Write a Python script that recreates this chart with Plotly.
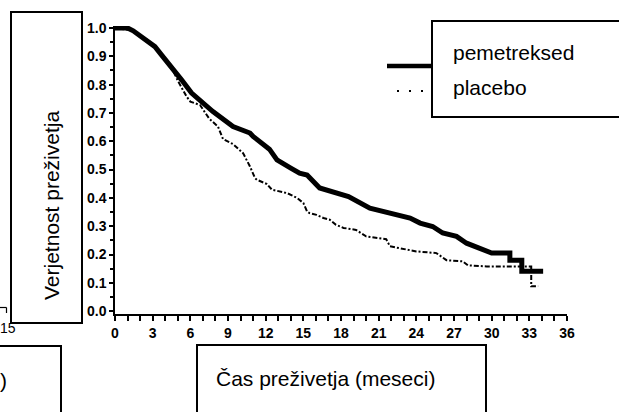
import plotly.graph_objects as go

# Kaplan-Meier survival estimates (months, survival probability)
pem_months = [0, 1.0, 1.45, 2.25, 3.18, 3.7, 4.5, 5.3, 6.1, 6.77, 7.8, 9.4, 10.75, 11.0,
              12.3, 12.9, 13.1, 14.0, 14.7, 15.3, 16.3, 17.4, 18.6, 20.3, 21.9, 23.5,
              24.3, 25.3, 26.1, 27.2, 28.0, 29.1, 30.0, 31.45, 31.45, 32.4, 32.4, 34.1]
pem_surv = [1.0, 1.0, 0.99, 0.963, 0.934, 0.905, 0.863, 0.817, 0.77, 0.743, 0.705, 0.652,
            0.629, 0.617, 0.572, 0.534, 0.528, 0.505, 0.487, 0.481, 0.435, 0.42, 0.405,
            0.364, 0.346, 0.329, 0.311, 0.299, 0.276, 0.264, 0.24, 0.223, 0.205, 0.205,
            0.18, 0.18, 0.141, 0.141]

pla_months = [0, 1.5, 2.5, 3.5, 4.5, 5.04, 5.7, 6.0, 6.77, 7.5, 8.2, 8.6, 9.4, 9.95, 10.2,
              10.75, 11.15, 11.3, 12.1, 12.5, 13.7, 14.5, 15.0, 15.3, 15.5, 16.05, 16.6,
              17.1, 17.6, 18.2, 19.2, 20.0, 21.6, 21.9, 24.0, 25.6, 26.4, 27.7, 28.1,
              29.6, 33.15, 33.15, 33.7]
pla_surv = [1.0, 0.99, 0.96, 0.92, 0.86, 0.811, 0.758, 0.74, 0.728, 0.68, 0.652, 0.608,
            0.59, 0.57, 0.558, 0.511, 0.47, 0.464, 0.449, 0.429, 0.417, 0.40, 0.382, 0.352,
            0.346, 0.34, 0.329, 0.323, 0.305, 0.294, 0.287, 0.264, 0.254, 0.229, 0.211,
            0.205, 0.18, 0.176, 0.162, 0.158, 0.158, 0.088, 0.088]

series_names = ["pemetreksed", "placebo"]
y_title = "Verjetnost preživetja"
x_title = "Čas preživetja (meseci)"

W, H = 619, 412
L, R, T, B = 115, 52, 26, 98
PW, PH = W - L - R, H - T - B


def px(x):
    """pixel x -> paper x"""
    return (x - L) / PW


def py(y):
    """pixel y (from top) -> paper y"""
    return (H - B - y) / PH


fig = go.Figure()
fig.add_trace(go.Scatter(x=pem_months, y=pem_surv, mode="lines", name=series_names[0],
                         line=dict(color="black", width=5), showlegend=False))
fig.add_trace(go.Scatter(x=pla_months, y=pla_surv, mode="lines", name=series_names[1],
                         line=dict(color="black", width=2, dash="5px,2px,2px,2px"),
                         showlegend=False))

tick_font = dict(family="Liberation Sans, Arial, sans-serif", size=14, color="black",
                 weight="bold")

fig.update_xaxes(range=[0, 36], tickvals=list(range(0, 37, 3)),
                 ticks="outside", ticklen=5, tickwidth=1.5, tickcolor="black",
                 minor=dict(dtick=1, tick0=0, ticks="outside", ticklen=5, tickwidth=1.5,
                            tickcolor="black"),
                 showline=True, linecolor="black", linewidth=2, showgrid=False,
                 zeroline=False, tickfont=tick_font)
fig.update_yaxes(range=[-0.01, 1.007], tickvals=[i / 10 for i in range(11)],
                 tickformat=".1f", ticks="outside", ticklen=4, tickwidth=1.5,
                 tickcolor="black",
                 minor=dict(dtick=0.05, tick0=0, ticks="outside", ticklen=3, tickwidth=1.5,
                            tickcolor="black"),
                 showline=True, linecolor="black", linewidth=1.5, showgrid=False,
                 zeroline=False, tickfont=tick_font)

box_line = dict(color="black", width=2)
shapes = [
    # y-title frame
    dict(type="rect", xref="paper", yref="paper", x0=px(11), x1=px(82), y0=py(323), y1=py(12),
         line=box_line, fillcolor="white", layer="above"),
    # legend frame
    dict(type="rect", xref="paper", yref="paper", x0=px(432), x1=px(640), y0=py(117), y1=py(21),
         line=box_line, fillcolor="white", layer="above"),
    # lower-left frame
    dict(type="rect", xref="paper", yref="paper", x0=px(-20), x1=px(61), y0=py(430), y1=py(346),
         line=box_line, fillcolor="white", layer="above"),
    # x-title frame
    dict(type="rect", xref="paper", yref="paper", x0=px(197), x1=px(486), y0=py(430), y1=py(345),
         line=box_line, fillcolor="white", layer="above"),
    # legend samples
    dict(type="line", xref="paper", yref="paper", x0=px(387), x1=px(432), y0=py(66), y1=py(66),
         line=dict(color="black", width=4.5)),
    dict(type="line", xref="paper", yref="paper", x0=px(397), x1=px(432), y0=py(91), y1=py(91),
         line=dict(color="black", width=2, dash="2px,10px")),
    # stray axis fragment at the left edge
    dict(type="line", xref="paper", yref="paper", x0=px(-2), x1=px(6.5), y0=py(307.5), y1=py(307.5),
         line=dict(color="black", width=1.2)),
    dict(type="line", xref="paper", yref="paper", x0=px(6.5), x1=px(6.5), y0=py(307.5), y1=py(313),
         line=dict(color="black", width=1.2)),
]

label_font = dict(family="Liberation Sans, Arial, sans-serif", size=21, color="black")
annotations = [
    dict(text=y_title, x=px(51), y=py(206), xref="paper", yref="paper", textangle=-90,
         showarrow=False, xanchor="center", yanchor="middle", font=label_font),
    dict(text=x_title, x=px(214), y=py(378), xref="paper", yref="paper",
         showarrow=False, xanchor="left", yanchor="middle", font=label_font),
    dict(text=series_names[0], x=px(451), y=py(52), xref="paper", yref="paper",
         showarrow=False, xanchor="left", yanchor="middle", font=label_font),
    dict(text=series_names[1], x=px(451), y=py(87), xref="paper", yref="paper",
         showarrow=False, xanchor="left", yanchor="middle", font=label_font),
    dict(text=")", x=px(-2), y=py(380), xref="paper", yref="paper",
         showarrow=False, xanchor="left", yanchor="middle", font=label_font),
    dict(text="15", x=px(-2), y=py(328), xref="paper", yref="paper",
         showarrow=False, xanchor="left", yanchor="middle",
         font=dict(family="Liberation Sans, Arial, sans-serif", size=14, color="black")),
]

fig.update_layout(width=W, height=H, margin=dict(l=L, r=R, t=T, b=B),
                  paper_bgcolor="white", plot_bgcolor="white",
                  shapes=shapes, annotations=annotations, showlegend=False)

fig.write_html("out.html")
